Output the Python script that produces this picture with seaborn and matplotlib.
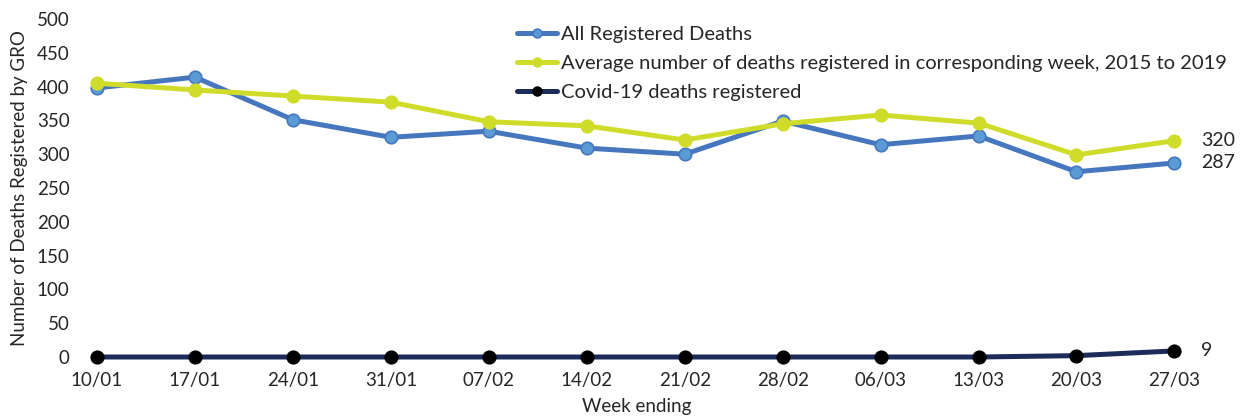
import pandas as pd
import matplotlib.pyplot as plt
import seaborn as sns

# weekly figures
weeks = ["10/01", "17/01", "24/01", "31/01", "07/02", "14/02",
         "21/02", "28/02", "06/03", "13/03", "20/03", "27/03"]
all_deaths = [398, 414, 351, 325, 334, 309, 300, 349, 314, 327, 274, 287]
avg_2015_2019 = [405, 395, 386, 377, 348, 342, 321, 345, 358, 346, 299, 320]
covid_deaths = [0, 0, 0, 0, 0, 0, 0, 0, 0, 0, 2, 9]

series_names = ["All Registered Deaths",
                "Average number of deaths registered in corresponding week, 2015 to 2019",
                "Covid-19 deaths registered"]

sns.set_style("white")
plt.rcParams["font.family"] = ["Lato", "DejaVu Sans"]

fig = plt.figure(figsize=(12.46, 4.19), dpi=100)
ax = fig.add_axes([78 / 1246, 62 / 419, (1195 - 78) / 1246, 338 / 419])

pos = list(range(len(weeks)))
styles = [
    (all_deaths, "#4677be", "#5b9bd5"),
    (avg_2015_2019, "#cfdd2a", "#cfdd2a"),
    (covid_deaths, "#1c2b5a", "black"),
]
for (vals, line_col, face_col), name in zip(styles, series_names):
    sns.lineplot(x=pos, y=vals, ax=ax, color=line_col, linewidth=3.6,
                 marker="o", markersize=9, markerfacecolor=face_col,
                 markeredgecolor=line_col if face_col != "black" else "black",
                 markeredgewidth=1.2, label=name, clip_on=False)

ax.set_ylim(0, 500)
ax.set_yticks(range(0, 501, 50))
ax.set_xlim(-0.194, 11.21)
ax.set_xticks(pos)
ax.set_xticklabels(weeks)
ax.tick_params(axis="both", labelsize=13.5, length=0)
ax.tick_params(axis="x", pad=11)
ax.tick_params(axis="y", pad=6)
sns.despine(ax=ax, left=True, bottom=True)

ax.set_xlabel("Week ending", fontsize=13.5, labelpad=6)
ax.set_ylabel("Number of Deaths Registered by GRO", fontsize=13.5, labelpad=6)

# end-of-line labels
for vals in (avg_2015_2019, all_deaths, covid_deaths):
    ax.annotate(str(vals[-1]), (pos[-1], vals[-1]), xytext=(19, 0),
                textcoords="offset points", va="center", fontsize=14,
                annotation_clip=False)

leg = ax.legend(loc="upper left", bbox_to_anchor=(509 / 1246, 401 / 419), bbox_transform=fig.transFigure,
                frameon=False, fontsize=14.5, handlelength=2.0, handletextpad=0.2,
                labelspacing=0.58, borderaxespad=0, markerscale=0.7)

fig.savefig("out.png", dpi=100)
